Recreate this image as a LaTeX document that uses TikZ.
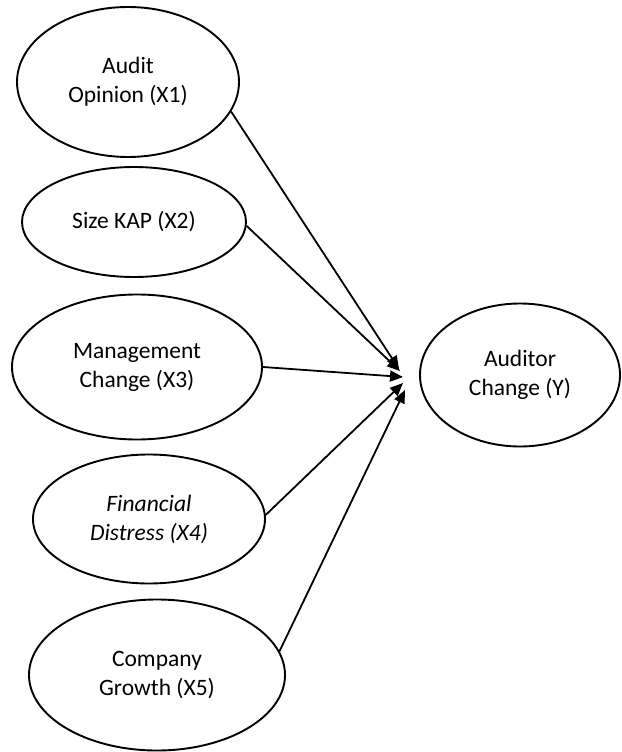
\documentclass[tikz,border=0pt]{standalone}
\usepackage{fontspec}
\setmainfont{Carlito}
\usetikzlibrary{shapes.geometric,arrows.meta}
\tikzset{
  oval/.style={ellipse, draw=black, line width=1.9pt, inner sep=0pt, align=center,
    font=\fontsize{23.5}{29}\selectfont},
  arr/.style={line width=1.8pt, -{Triangle[length=13pt,width=11pt]}}
}
\begin{document}
\begin{tikzpicture}[x=1pt,y=-1pt]
\useasboundingbox (0,0) rectangle (621,752);
\node[oval, minimum width=222pt, minimum height=150pt] (x1) at (128,82) {Audit\\Opinion (X1)};
\node[oval, minimum width=224pt, minimum height=110pt] (x2) at (134,222) {Size KAP (X2)};
\node[oval, minimum width=250pt, minimum height=145pt] (x3) at (137,367) {Management\\Change (X3)};
\node[oval, minimum width=232pt, minimum height=129pt] (x4) at (149,519) {\itshape Financial\\\itshape Distress (X4)};
\node[oval, minimum width=256pt, minimum height=151pt] (x5) at (157,675) {Company\\Growth (X5)};
\node[oval, minimum width=200pt, minimum height=143pt] (y) at (520,375) {Auditor\\Change (Y)};
\coordinate (t1) at (399,369);
\coordinate (t2) at (400,371);
\coordinate (t3) at (403,377);
\coordinate (t4) at (403,383);
\coordinate (t5) at (405,390);
\draw[arr] (x1.-16) -- (t1);
\draw[arr] (x2.-2) -- (t2);
\draw[arr] (x3.0) -- (t3);
\draw[arr] (x4.2) -- (t4);
\draw[arr] (x5.11.7) -- (t5);
\end{tikzpicture}
\end{document}
